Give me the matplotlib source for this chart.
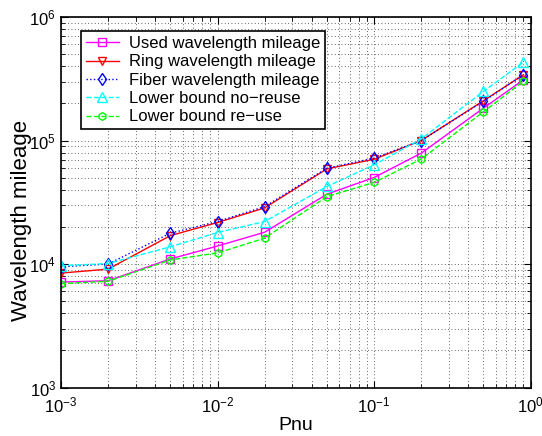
import numpy as np
import matplotlib
matplotlib.use("Agg")
import matplotlib.pyplot as plt

plt.rcParams['font.family'] = ['Liberation Sans', 'DejaVu Sans']
plt.rcParams['mathtext.fontset'] = 'custom'
plt.rcParams['mathtext.rm'] = 'Liberation Sans'

# data
pnu = [0.001, 0.002, 0.005, 0.01, 0.02, 0.05, 0.1, 0.2, 0.5, 0.9]
used = [7150, 7330, 11000, 14000, 18100, 36800, 50200, 79000, 183000, 310000]
ring = [8450, 9100, 17000, 21700, 28500, 59000, 70500, 100000, 210000, 341000]
fiber = [9500, 10000, 17800, 22100, 29200, 59700, 72000, 100000, 208000, 341000]
lb_noreuse = [9700, 10100, 13800, 18000, 22100, 42500, 63500, 103000, 250000, 431000]
lb_reuse = [6950, 7250, 10800, 12300, 16200, 35200, 45800, 70700, 171000, 302000]

labels = ["Used wavelength mileage", "Ring wavelength mileage",
          "Fiber wavelength mileage", "Lower bound no\u2212reuse",
          "Lower bound re\u2212use"]

fig = plt.figure(figsize=(5.42, 4.36), dpi=100)
ax = fig.add_axes([0.1125, 0.111, 0.8665, 0.85])

ms = 5.5
ax.plot(pnu, used, color='#ff00ff', ls='-', lw=1, marker='s', ms=ms,
        mfc='none', label=labels[0])
ax.plot(pnu, ring, color='#ff0000', ls='-', lw=1, marker='v', ms=ms,
        mfc='none', label=labels[1])
ax.plot(pnu, fiber, color='#0000ff', ls=':', lw=1, marker='d', ms=ms + 1,
        mfc='none', label=labels[2])
ax.plot(pnu, lb_noreuse, color='#00ffff', ls='--', lw=1, marker='^', ms=ms + 1,
        mfc='none', label=labels[3])
ax.plot(pnu, lb_reuse, color='#00ff00', ls='--', lw=1, marker='h', ms=ms,
        mfc='none', label=labels[4])

ax.set_xscale('log')
ax.set_yscale('log')
ax.set_xlim(1e-3, 1)
ax.set_ylim(1e3, 1e6)

ax.grid(True, which='both', color='black', ls=(0, (1, 3)), lw=0.6, alpha=0.8)
ax.tick_params(which='both', direction='in', top=True, right=True,
               labelsize=12)
ax.tick_params(axis='x', which='both', pad=6)
ax.tick_params(which='major', length=5)
ax.tick_params(which='minor', length=3)
for s in ax.spines.values():
    s.set_linewidth(1.2)

ax.set_xlabel("Pnu", fontsize=14, labelpad=1)
ax.set_ylabel("Wavelength mileage", fontsize=16)
ax.yaxis.set_label_coords(-0.062, 0.45)

leg = ax.legend(loc='upper left', bbox_to_anchor=(0.042, 0.962),
                borderaxespad=0, fontsize=12, fancybox=False,
                edgecolor='black', framealpha=1, handlelength=2.0,
                handletextpad=0.6, labelspacing=0.2, borderpad=0.3)
leg.get_frame().set_linewidth(1.2)

fig.savefig("out.png", dpi=100)
